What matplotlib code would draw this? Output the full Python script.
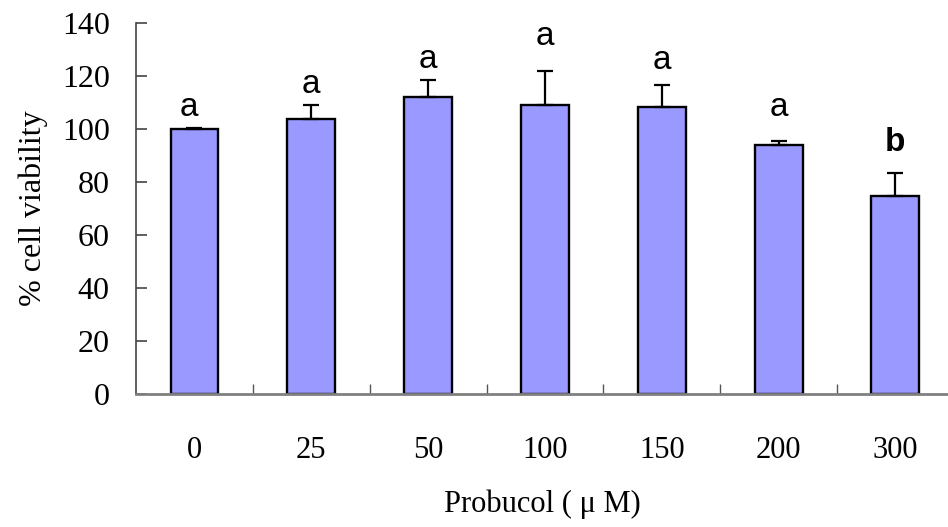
import matplotlib
matplotlib.use('Agg')
import matplotlib.pyplot as plt
from matplotlib.ticker import FixedLocator

doses = ['0', '25', '50', '100', '150', '200', '300']
viability = [100.0, 103.8, 112.1, 108.9, 108.2, 94.0, 74.8]
sem = [0.4, 5.3, 6.3, 13.0, 8.3, 1.5, 8.5]
groups = ['a', 'a', 'a', 'a', 'a', 'a', 'b']
# how far each letter sits above its error bar (points)
letter_lift = [15, 15, 15, 25, 18, 24, 22]

serif = 'Liberation Serif'

fig = plt.figure(figsize=(9.48, 5.27), dpi=100)
ax = fig.add_axes([0.1435, 0.2524, 0.8565, 0.704])

x = list(range(len(doses)))
ax.bar(x, viability, width=0.41, color='#9999ff', edgecolor='black',
       linewidth=1.7, zorder=2)
ax.errorbar(x, viability, yerr=[[0] * len(sem), sem], fmt='none',
            ecolor='black', elinewidth=1.6, capsize=6, capthick=1.6, zorder=3)

for i, g in enumerate(groups):
    top = viability[i] + sem[i]
    ax.annotate(g, (x[i], top), xytext=(-4 if i == 0 else 0, letter_lift[i]),
                textcoords='offset points', ha='center', va='center',
                fontsize=24, family='Liberation Sans',
                fontweight='bold' if g == 'b' else 'normal')

ax.set_xlim(-0.5, 6.45)
ax.set_ylim(0, 140)
ax.set_yticks(range(0, 141, 20))

ax.set_xticks(x)
ax.set_xticklabels(doses, family=serif, fontsize=22)
ax.xaxis.set_minor_locator(FixedLocator([i + 0.5 for i in range(6)]))
ax.tick_params(axis='x', which='major', length=0, pad=30)
ax.tick_params(axis='x', which='minor', direction='in', length=7,
               width=1, color='#555555')
ax.tick_params(axis='y', direction='in', length=8, width=1.2,
               color='#444444', pad=19)
for lab in ax.get_yticklabels():
    lab.set_family(serif)
    lab.set_fontsize(23)

for side in ['top', 'right']:
    ax.spines[side].set_visible(False)
ax.spines['left'].set_color('#444444')
ax.spines['left'].set_linewidth(1.2)
ax.spines['bottom'].set_color('#808080')
ax.spines['bottom'].set_linewidth(2)

ax.set_ylabel('% cell viability', family=serif, fontsize=23, labelpad=10)
ax.set_xlabel('Probucol ( \u03bc M)', family=serif, fontsize=22, labelpad=18)

fig.savefig('out.png', dpi=100)
